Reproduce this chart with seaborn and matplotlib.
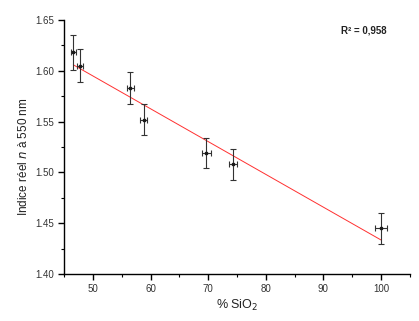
import numpy as np
import pandas as pd
import matplotlib.pyplot as plt
import seaborn as sns
from matplotlib.ticker import MultipleLocator, FormatStrFormatter

# Values
sio2 = [46.6, 47.75, 56.5, 58.8, 69.7, 74.25, 100.0]
sio2_err = [0.45, 0.45, 0.65, 0.6, 0.8, 0.7, 1.0]
indice = [1.618, 1.605, 1.583, 1.552, 1.519, 1.508, 1.445]
indice_err = [0.017, 0.016, 0.016, 0.015, 0.015, 0.015, 0.015]
r2_label = 'R² = 0,958'

df = pd.DataFrame({'sio2': sio2, 'indice': indice})

sns.set_style('ticks')
plt.rcParams['font.family'] = ['Liberation Sans', 'DejaVu Sans']

fig = plt.figure(figsize=(4.19, 3.21), dpi=100)
ax = fig.add_axes([0.153, 0.146, 0.825, 0.792])

# linear fit through the points
sns.regplot(data=df, x='sio2', y='indice', ax=ax, scatter=False, ci=None,
            truncate=True, line_kws={'color': '#ff3030', 'lw': 0.7})

ax.errorbar(sio2, indice, xerr=sio2_err, yerr=indice_err, fmt='s', ms=2,
            color='#1a1a1a', ecolor='#333333', elinewidth=0.8, capsize=2.5,
            capthick=0.8, zorder=3)

ax.set_xlim(45, 105)
ax.set_ylim(1.40, 1.65)
ax.xaxis.set_major_locator(MultipleLocator(10))
ax.xaxis.set_minor_locator(MultipleLocator(5))
ax.yaxis.set_major_locator(MultipleLocator(0.05))
ax.yaxis.set_minor_locator(MultipleLocator(0.025))
ax.yaxis.set_major_formatter(FormatStrFormatter('%.2f'))
ax.set_xticks([50, 60, 70, 80, 90, 100])

ax.tick_params(which='major', direction='out', length=4, width=1, labelsize=7,
               labelcolor='#333333', color='black', pad=3)
ax.tick_params(which='minor', direction='out', length=2, width=0.8, color='black')
for s in ['left', 'bottom']:
    ax.spines[s].set_color('black')
    ax.spines[s].set_linewidth(1.0)
sns.despine(ax=ax)

ax.set_xlabel('% SiO$_2$', fontsize=9, color='#222222', labelpad=3)
ax.set_ylabel('Indice réel $n$ à 550 nm', fontsize=8.5, color='#222222')
ax.yaxis.set_label_coords(-0.10, 0.46)

ax.text(97.0, 1.6395, r2_label, fontsize=7, fontweight='bold', ha='center',
        va='center', color='#222222')

fig.savefig('out.png', dpi=100)
